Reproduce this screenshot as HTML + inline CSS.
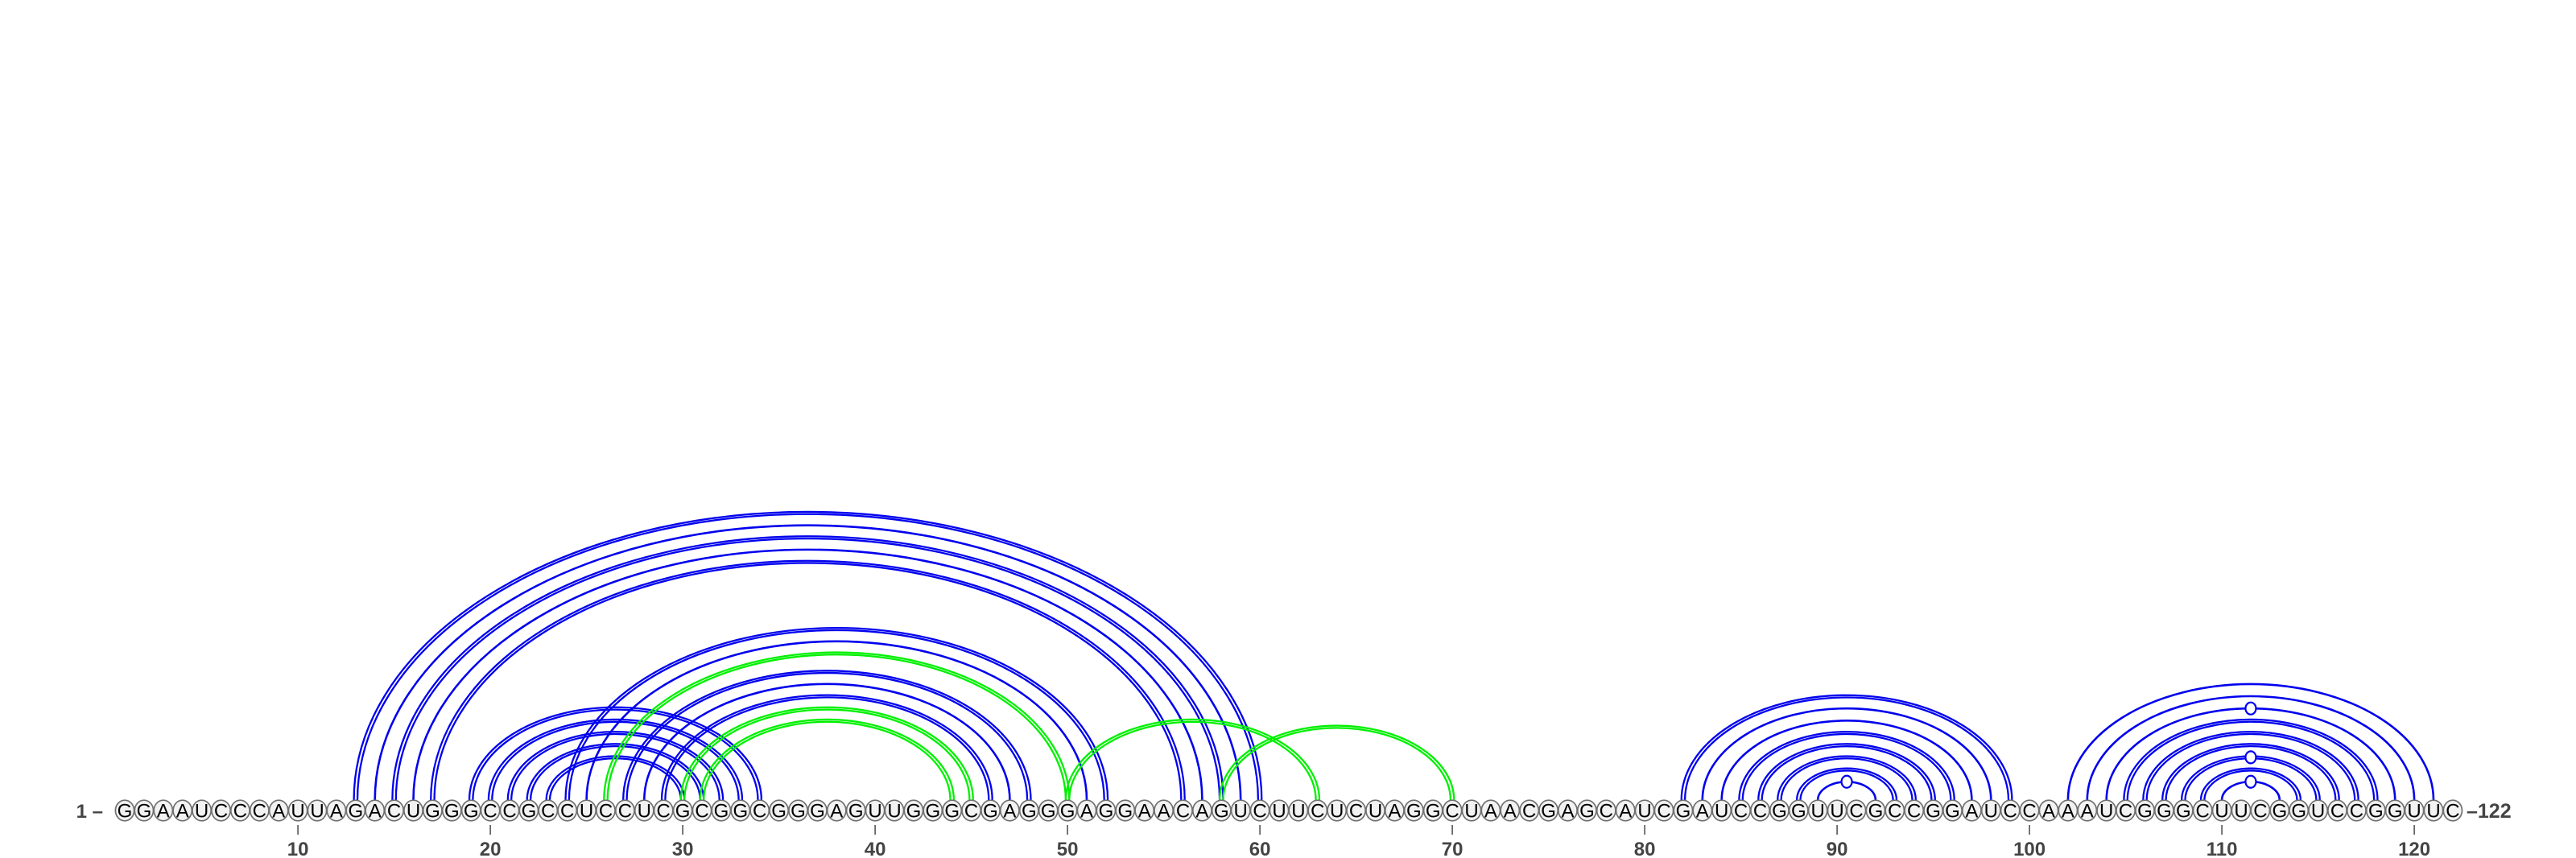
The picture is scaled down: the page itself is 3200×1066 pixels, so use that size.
<!DOCTYPE html>
<html><head><meta charset="utf-8"><style>
html,body{margin:0;padding:0;background:#fff;}
svg{display:block;}
</style></head><body>
<svg id="chart" width="3200" height="1066" viewBox="0 0 3200 1066" xmlns="http://www.w3.org/2000/svg">
<rect width="3200" height="1066" fill="#fff"/>
<g id="arcs"></g>
<g id="nts"></g>
<g id="ticks"></g>
<text x="128" y="1016" font-family="Liberation Sans, sans-serif" font-size="24" font-weight="bold" fill="#444" text-anchor="end">1 –</text>
<text x="3064" y="1016" font-family="Liberation Sans, sans-serif" font-size="25" font-weight="bold" fill="#444">–122</text>
</svg>
<script>
const sequence = "GGAAUCCCAUUAGACUGGGCCGCCUCCUCGCGGCGGGAGUUGGGCGAGGGAGGAACAGUCUUCUCUAGGCUAACGAGCAUCGAUCCGGUUCGCCGGAUCCAAAUCGGGCUUCGGUCCGGUUC";
const tickPositions = [10,20,30,40,50,60,70,80,90,100,110,120];
const blueLeft  = [13,14,15,16,17,19,20,21,22,23,24,25,27,28,29,82,83,84,85,86,87,88,89,102,103,104,105,106,107,108,109,110];
const blueRight = [60,59,58,57,56,34,33,32,31,30,52,51,48,47,46,99,98,97,96,95,94,93,92,121,120,119,118,117,116,115,114,113];
const blueDouble= [1,0,1,0,1,1,1,1,1,1,1,0,1,0,1,1,0,0,1,1,1,1,0,0,0,0,1,1,1,1,1,0];
const greenLeft  = [26,30,31,50,58];
const greenRight = [50,45,44,63,70];
const greenDouble= [1,1,1,1,1];

const NS="http://www.w3.org/2000/svg";
const x0=155, dx=23.9, baseY=994, ntY=1007, ratio=0.635;
function xPos(i){return x0+(i-1)*dx;}
function mk(tag,attrs,parent){const e=document.createElementNS(NS,tag);for(const k in attrs)e.setAttribute(k,attrs[k]);parent.appendChild(e);return e;}
const arcsG=document.getElementById('arcs'), ntG=document.getElementById('nts'), tickG=document.getElementById('ticks');

function arcPath(a,b,off){
  const xa=xPos(a)-off, xb=xPos(b)+off, rx=(xb-xa)/2, ry=rx*ratio;
  return `M${xa},${baseY} A${rx},${ry} 0 0 1 ${xb},${baseY}`;
}
function drawSet(L,R,D,color,name){
  for(let k=0;k<L.length;k++){
    const a=L[k], b=R[k];
    const offs = D[k] ? [-2.2,2.2] : [0];
    for(const o of offs){
      const p=mk('path',{d:arcPath(a,b,o),fill:'none',stroke:color,'stroke-width':D[k]?2.3:2.6},arcsG);
      
      
    }
    const pa=sequence[a-1]+sequence[b-1];
    if(name==='blue' && (pa==='GU'||pa==='UG')){
      const cx=(xPos(a)+xPos(b))/2, ry=(xPos(b)-xPos(a))/2*ratio;
      const c=mk('ellipse',{cx:cx,cy:baseY-ry,rx:6.5,ry:7.5,fill:'#fff',stroke:color,'stroke-width':2.2},arcsG);
      
      
    }
  }
}
drawSet(blueLeft,blueRight,blueDouble,'#0000ee','blue');
drawSet(greenLeft,greenRight,greenDouble,'#00f000','green');

for(let i=1;i<=sequence.length;i++){
  const g=mk('g',{},ntG);
  
  
  mk('ellipse',{cx:xPos(i),cy:ntY,rx:11.6,ry:12.8,fill:'#f2f2f2',stroke:'#707070','stroke-width':1.7},g);
  const t=mk('text',{x:xPos(i),y:ntY+8.5,'text-anchor':'middle','font-family':'Liberation Sans, sans-serif','font-size':24,fill:'#000'},g);
  t.textContent=sequence[i-1];
}
for(const p of tickPositions){
  const l=mk('line',{x1:xPos(p),x2:xPos(p),y1:1025,y2:1037,stroke:'#555','stroke-width':1.6},tickG);
  
  
  const t=mk('text',{x:xPos(p),y:1063,'text-anchor':'middle','font-family':'Liberation Sans, sans-serif','font-size':24,'font-weight':'bold',fill:'#444'},tickG);
  
  
  t.textContent=p;
}
</script>
</body></html>
